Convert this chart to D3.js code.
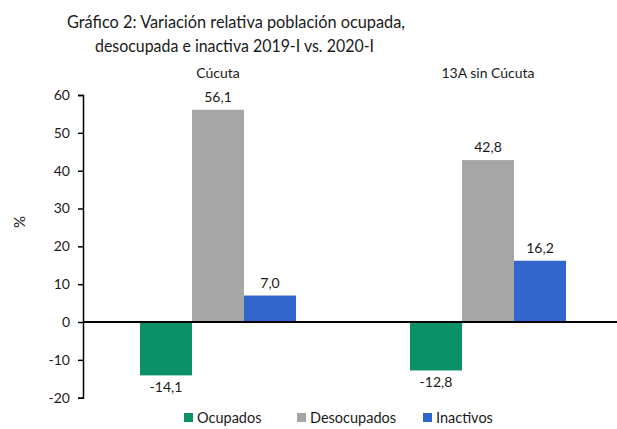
<!DOCTYPE html>
<html>
<head>
<meta charset="utf-8">
<script src="https://cdn.jsdelivr.net/npm/d3@7"></script>
<style>
 body { margin: 0; background: #fff; }
 text { font-family: Lato, "Open Sans", sans-serif; fill: #1a1a1a; }
</style>
</head>
<body>
<svg></svg>
<script>
// размеры svg
const width = 617;
const height = 429;

// данные
const groups = ["Cúcuta", "13A sin Cúcuta"];
const series = ["Ocupados", "Desocupados", "Inactivos"];
const ocupados = [-14.1, -12.8];
const desocupados = [56.1, 42.8];
const inactivos = [7.0, 16.2];
const yTicks = [-20, -10, 0, 10, 20, 30, 40, 50, 60];
const colors = ["#0a9168", "#a6a6a6", "#3366cc"];

let svg = d3.select("svg")
 .attr("width", width)
 .attr("height", height);

const margin = {left: 83, top: 95};
const plotRight = 623;
const plotBottom = 397.7;

// формат с обычным дефисом вместо знака минус
const fmt1 = v => d3.format(".1f")(v).replace("−", "-").replace(".", ",");
const fmtInt = v => d3.format("d")(v).replace("−", "-");

// шкалы
let x0 = d3.scaleBand()
 .domain(groups)
 .range([margin.left, plotRight]);
let x1 = d3.scaleBand()
 .domain(series)
 .range([0, x0.bandwidth()])
 .paddingInner(0)
 .paddingOuter(1.096);
let y = d3.scaleLinear()
 .domain([-20, 60])
 .range([plotBottom, margin.top]);

// заголовок
svg.append("text")
 .attr("x", 67).attr("y", 28)
 .attr("textLength", 338)
 .attr("lengthAdjust", "spacingAndGlyphs")
 .style("font-size", "17px")
 .text("Gráfico 2: Variación relativa población ocupada,");
svg.append("text")
 .attr("x", 95).attr("y", 52)
 .attr("textLength", 279)
 .attr("lengthAdjust", "spacingAndGlyphs")
 .style("font-size", "17px")
 .text("desocupada e inactiva  2019-I vs. 2020-I");

// подписи групп
svg.selectAll(".grp")
 .data(groups)
 .join("text")
 .attr("class", "grp")
 .attr("x", d => x0(d) + x0.bandwidth() / 2)
 .attr("y", 78)
 .attr("text-anchor", "middle")
 .style("font-size", "14px")
 .text(d => d);

// ось Y
let yAxis = svg.append("g")
 .attr("transform", `translate(${margin.left},0)`)
 .call(d3.axisLeft(y).tickValues(yTicks).tickSize(5).tickPadding(8).tickFormat(fmtInt));
yAxis.select(".domain").attr("stroke", "#000").attr("stroke-width", 1.5);
yAxis.selectAll(".tick line").attr("stroke", "#000").attr("stroke-width", 1.5);
yAxis.selectAll(".tick text")
 .style("font-family", "Lato, 'Open Sans', sans-serif")
 .style("font-size", "14px")
 .attr("fill", "#1a1a1a");

// подпись оси
svg.append("text")
 .attr("transform", "translate(25,222) rotate(-90)")
 .attr("text-anchor", "middle")
 .style("font-size", "15px")
 .text("%");

// столбцы
const values = [ocupados, desocupados, inactivos];
series.forEach((s, i) => {
 let g = svg.append("g").attr("fill", colors[i]);
 groups.forEach((grp, j) => {
  let v = values[i][j];
  let bx = x0(grp) + x1(s);
  g.append("rect")
   .attr("x", bx)
   .attr("y", y(Math.max(0, v)))
   .attr("width", x1.bandwidth())
   .attr("height", Math.abs(y(v) - y(0)));
  svg.append("text")
   .attr("x", bx + x1.bandwidth() / 2)
   .attr("y", v >= 0 ? y(v) - 8 : y(v) + 17)
   .attr("text-anchor", "middle")
   .style("font-size", "14px")
   .text(fmt1(v));
 });
});

// линия нуля
svg.append("line")
 .attr("x1", margin.left).attr("x2", width)
 .attr("y1", y(0)).attr("y2", y(0))
 .attr("stroke", "#000")
 .attr("stroke-width", 2);

// легенда
const legendX = [184, 297, 423];
series.forEach((s, i) => {
 svg.append("rect")
  .attr("x", legendX[i]).attr("y", 413)
  .attr("width", 9).attr("height", 9)
  .attr("fill", colors[i]);
 svg.append("text")
  .attr("x", legendX[i] + 13).attr("y", 423)
  .style("font-size", "14.5px")
  .text(s);
});
</script>
</body>
</html>
